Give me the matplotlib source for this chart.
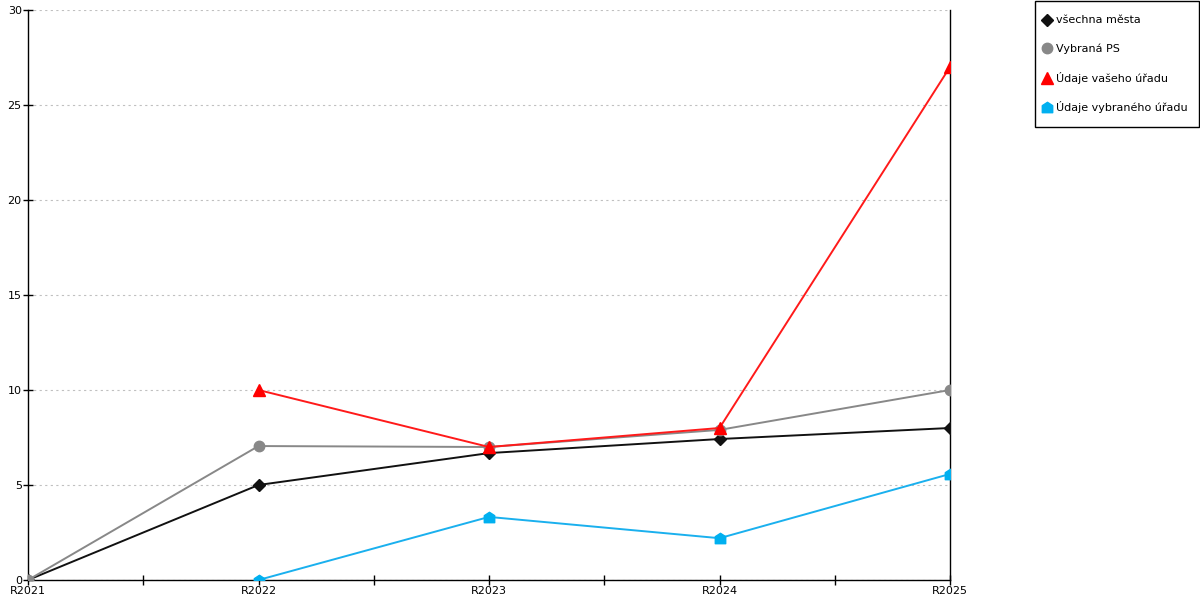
import matplotlib
matplotlib.use("Agg")
import matplotlib.pyplot as plt
from matplotlib.path import Path
from matplotlib.patches import Rectangle
from matplotlib.ticker import MultipleLocator

YEARS = ["R2021", "R2022", "R2023", "R2024", "R2025"]
ALL_CITIES = [0, 5.0, 6.68, 7.42, 8.0]
SELECTED_PS = [0, 7.05, 7.0, 7.9, 10.0]
YOUR_OFFICE = [None, 10.0, 7.0, 8.0, 27.0]
SELECTED_OFFICE = [None, 0.0, 3.32, 2.2, 5.58]

# house-shaped marker for the blue series
HOUSE = Path([(-1, -1), (1, -1), (1, 0.35), (0, 1), (-1, 0.35), (-1, -1)],
             [Path.MOVETO] + [Path.LINETO] * 4 + [Path.CLOSEPOLY])

fig = plt.figure(figsize=(12, 6), dpi=100)
ax = fig.add_axes([28 / 1200, 20 / 600, 922 / 1200, 570 / 600])


def series(vals):
    xs = [i for i, v in enumerate(vals) if v is not None]
    return xs, [vals[i] for i in xs]


x, y = series(ALL_CITIES)
ax.plot(x, y, color="#111111", lw=1.4, marker="D", ms=6.3, zorder=3,
        label="všechna města")
x, y = series(SELECTED_PS)
ax.plot(x, y, color="#888888", lw=1.4, marker="o", ms=7.5, zorder=4,
        label="Vybraná PS")
x, y = series(YOUR_OFFICE)
ax.plot(x, y, color="#ff1a1a", lw=1.4, marker="^", ms=8.5, mec="#ff0000",
        mfc="#ff0000", zorder=5, label="Údaje vašeho úřadu")
x, y = series(SELECTED_OFFICE)
ax.plot(x, y, color="#1ab0ee", lw=1.4, marker=HOUSE, ms=7.5, mfc="#00b0f0",
        mec="#00b0f0", zorder=6, label="Údaje vybraného úřadu")

ax.set_xlim(0, len(YEARS) - 1)
ax.set_ylim(0, 30)
ax.set_xticks(range(len(YEARS)))
ax.set_xticklabels(YEARS, fontsize=8)
ax.xaxis.set_minor_locator(MultipleLocator(0.5))
ax.set_yticks(range(0, 31, 5))
ax.tick_params(axis="both", labelsize=8, direction="inout", length=7, width=1,
               pad=1)
ax.tick_params(axis="x", which="minor", direction="inout", length=7, width=1)
ax.yaxis.grid(True, color="#c0c0c0", ls=(0, (2, 3)), lw=0.8)
ax.set_axisbelow(True)
ax.spines["top"].set_visible(False)
for side in ("left", "bottom", "right"):
    ax.spines[side].set_linewidth(1)

# legend entries without frame, box drawn separately
handles, labels = ax.get_legend_handles_labels()
leg = fig.legend(handles, labels, loc="upper left",
                 bbox_to_anchor=(1034 / 1200, 1 - 6 / 600),
                 fontsize=8, frameon=False,
                 handlelength=0.7, handletextpad=0.4, labelspacing=1.6,
                 borderpad=0.85, borderaxespad=0)
for h in leg.get_lines():
    h.set_linestyle("none")
fig.patches.append(Rectangle((1034.5 / 1200, 1 - 126.5 / 600), 164 / 1200,
                             126 / 600, transform=fig.transFigure,
                             fill=False, edgecolor="black", lw=1))

fig.savefig("out.png", dpi=100, facecolor="white")
